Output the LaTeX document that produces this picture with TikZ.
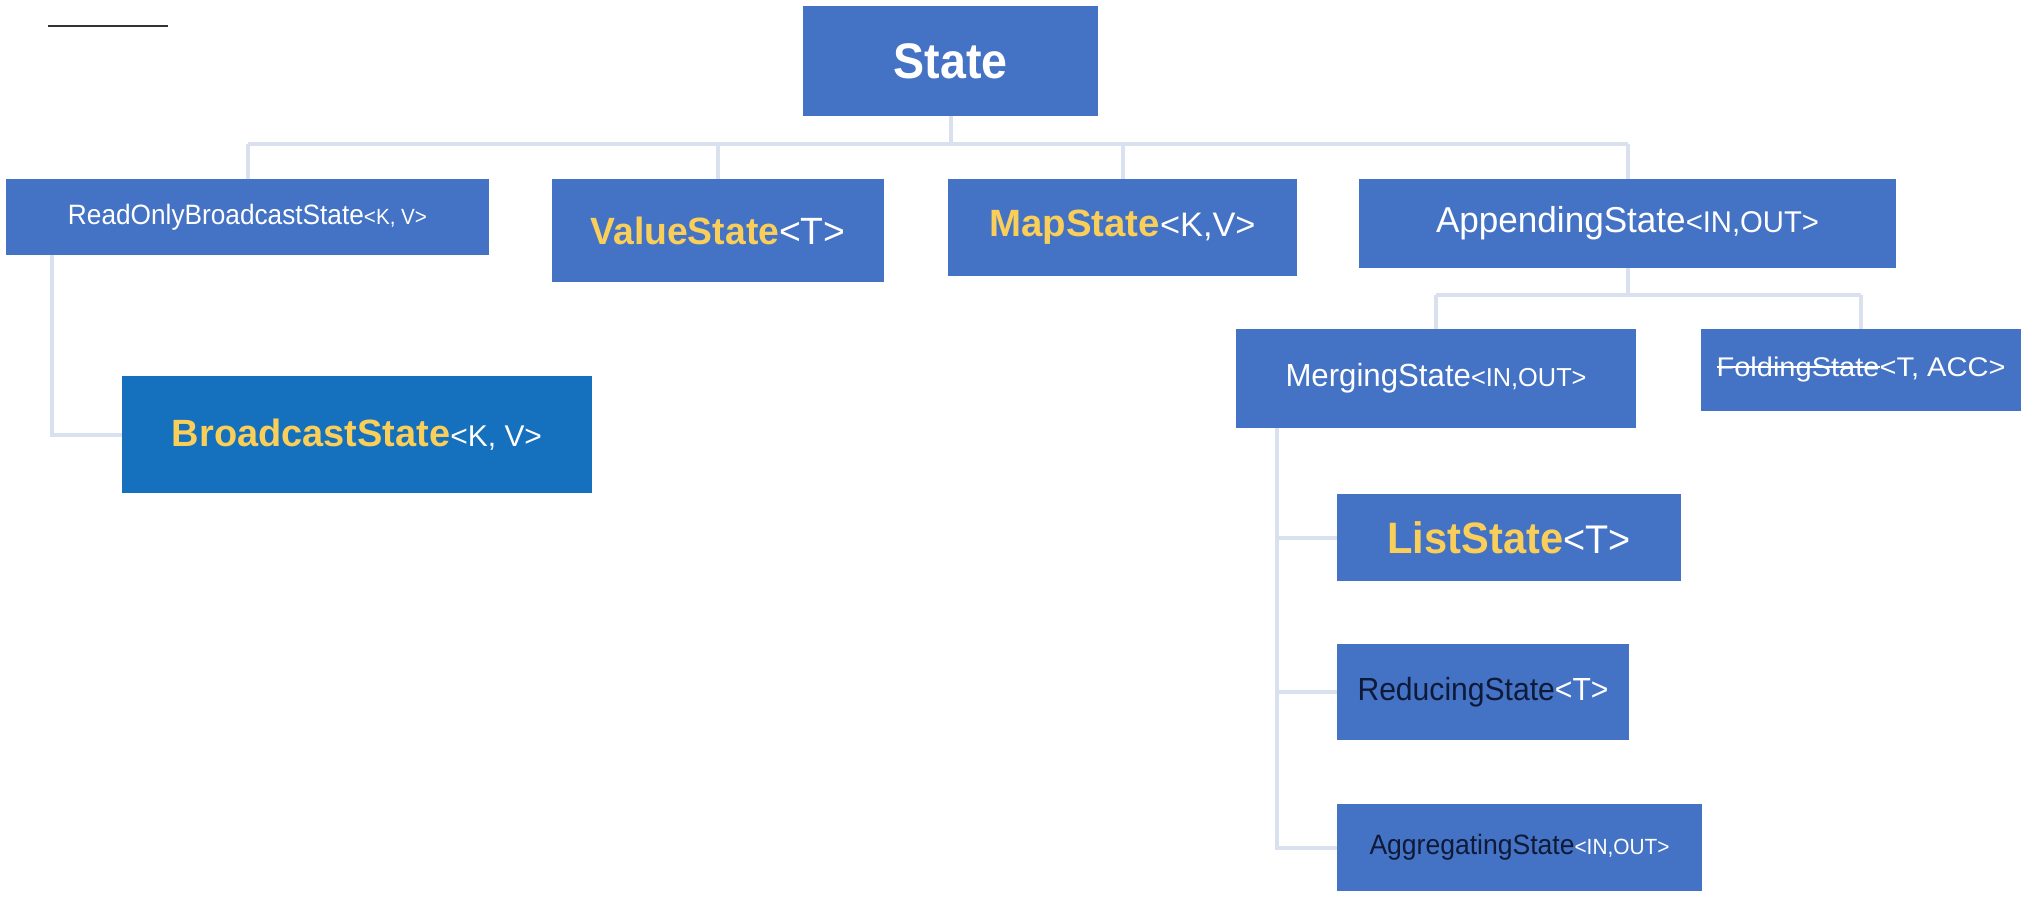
\documentclass[tikz,border=0pt]{standalone}
\usepackage{fontspec}
\setmainfont{Liberation Sans}
\usepackage{graphicx}
\definecolor{boxblue}{HTML}{4472C4}
\definecolor{bcblue}{HTML}{1570BD}
\definecolor{yel}{HTML}{F9CF5A}
\definecolor{darktxt}{HTML}{0E1A38}
\definecolor{connc}{HTML}{D9E1EE}
\definecolor{rulec}{HTML}{333333}
\newcommand\fitw[2]{\resizebox{#1pt}{\height}{#2}}
\newcommand\fs[1]{\fontsize{#1}{#1}\selectfont}
\newcommand\strk[1]{\setbox0\hbox{#1}\rlap{\rule[0.33em]{\wd0}{0.06em}}\box0}
\tikzset{
  box/.style={fill=boxblue, draw=none, inner sep=0pt, text=white, align=center},
  conn/.style={draw=connc, line width=4pt},
}
\begin{document}
\begin{tikzpicture}[x=1pt,y=-1pt]
\useasboundingbox[fill=white] (0,0) rectangle (2028,898);
% decorative rule top-left
\draw[rulec, line width=2.5pt] (48,26) -- (168,26);
% nodes
\node[box, minimum width=295pt, minimum height=110pt] (state) at (950.5,61)
  {\fitw{114}{\fs{50}\bfseries State}};
\node[box, minimum width=483pt, minimum height=76pt] (readonly) at (247.5,217)
  {\fitw{359}{\fs{28}ReadOnlyBroadcastState\fs{22}<K, V>}};
\node[box, minimum width=332pt, minimum height=103pt] (value) at (718,230.5)
  {\fitw{255}{\fs{38}\textcolor{yel}{\bfseries ValueState}<T>}};
\node[box, minimum width=349pt, minimum height=97pt] (map) at (1122.5,227.5)
  {\fitw{266}{\fs{38}\textcolor{yel}{\bfseries MapState}\fs{34}<K,V>}};
\node[box, minimum width=537pt, minimum height=89pt] (append) at (1627.5,223.5)
  {\fitw{383}{\fs{36}AppendingState\fs{30}<IN,OUT>}};
\node[box, minimum width=400pt, minimum height=99pt] (merging) at (1436,378.5)
  {\fitw{301}{\fs{32}MergingState\fs{26}<IN,OUT>}};
\node[box, minimum width=320pt, minimum height=82pt] (folding) at (1861,370)
  {\fitw{289}{\fs{27}\strk{FoldingState}<T, ACC>}};
\node[box, fill=bcblue, minimum width=470pt, minimum height=117pt] (broadcast) at (357,434.5)
  {\fitw{370}{\fs{38}\textcolor{yel}{\bfseries BroadcastState}\fs{30}<K, V>}};
\node[box, minimum width=344pt, minimum height=87pt] (list) at (1509,537.5)
  {\fitw{243}{\fs{44}\textcolor{yel}{\bfseries ListState}\fs{40}<T>}};
\node[box, minimum width=292pt, minimum height=96pt] (reducing) at (1483,692)
  {\fitw{251}{\fs{32}\textcolor{darktxt}{ReducingState}<T>}};
\node[box, minimum width=365pt, minimum height=87pt] (aggregating) at (1519.5,847.5)
  {\fitw{300}{\fs{28}\textcolor{darktxt}{AggregatingState}\fs{22}<IN,OUT>}};
% connectors
\coordinate (bus) at (0,144);
\coordinate (bus2) at (0,295);
\draw[conn] (state.south) -- (state.south |- bus);
\draw[conn] (readonly.north |- bus) -- (append.north |- bus);
\draw[conn] (readonly.north |- bus) -- (readonly.north);
\draw[conn] (value.north |- bus) -- (value.north);
\draw[conn] (map.north |- bus) -- (map.north);
\draw[conn] (append.north |- bus) -- (append.north);
\draw[conn] (append.south) -- (append.south |- bus2);
\draw[conn] (merging.north |- bus2) -- (folding.north |- bus2);
\draw[conn] (merging.north |- bus2) -- (merging.north);
\draw[conn] (folding.north |- bus2) -- (folding.north);
\coordinate (rv) at ([xshift=46pt]readonly.south west);
\draw[conn] (rv) |- (broadcast.west);
\coordinate (mv) at ([xshift=41pt]merging.south west);
\draw[conn] (mv) |- (aggregating.west);
\draw[conn] (mv |- list.west) -- (list.west);
\draw[conn] (mv |- reducing.west) -- (reducing.west);
\end{tikzpicture}
\end{document}
